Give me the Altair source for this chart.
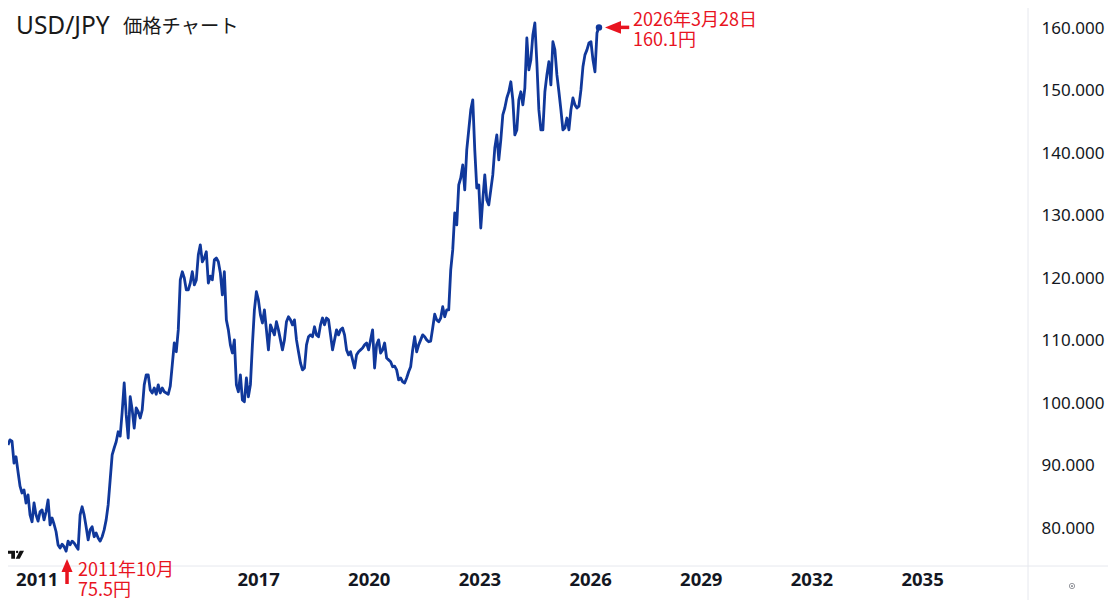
import altair as alt
import numpy as np
import pandas as pd

prices = [
93.3,94.1,93.9,90.4,91.4,89.0,86.7,85.6,86.1,84.0,85.3,82.1,81.0,84.0,82.1,81.1,82.6,82.9,81.3,82.6,
84.5,80.5,81.6,80.6,79.4,77.3,76.8,77.4,77.0,76.3,77.9,77.3,77.9,77.6,77.1,76.6,82.1,83.4,82.1,80.2,
78.1,79.7,80.2,78.6,79.2,78.4,77.9,78.6,79.7,81.3,83.7,87.7,91.7,92.8,93.8,95.4,94.7,98.6,103.2,98.1,
94.4,101.0,98.9,96.0,99.2,98.6,97.6,98.9,102.9,104.5,104.5,102.1,101.6,102.4,101.4,102.9,101.6,102.4,101.8,101.6,
101.4,102.7,106.1,109.6,108.2,111.7,119.7,121.0,120.0,118.1,118.1,119.2,121.0,118.9,119.7,123.7,125.3,122.6,123.2,124.2,
119.2,120.3,119.7,122.9,123.2,122.6,120.8,117.3,121.0,113.3,111.7,109.3,108.0,110.1,102.9,101.8,104.5,100.5,100.2,104.0,
101.0,102.9,109.3,114.9,117.8,116.5,114.1,112.8,114.9,111.7,108.5,112.5,111.7,110.9,113.0,111.7,110.1,108.5,110.1,113.0,
113.8,113.3,112.5,113.3,110.1,108.2,106.4,105.3,105.6,109.3,110.6,110.9,110.6,112.2,110.9,110.6,112.5,113.6,112.5,113.6,
113.3,110.9,108.5,110.1,111.7,110.9,111.7,112.0,110.9,108.5,107.7,108.2,106.9,105.6,107.7,108.2,108.5,108.8,109.3,109.6,
108.5,110.1,111.7,105.6,109.3,110.1,108.0,108.5,109.6,107.2,106.9,106.6,105.8,105.9,105.3,103.7,104.0,103.4,103.2,104.0,
105.0,105.8,108.5,110.6,108.2,109.3,110.1,110.9,110.6,110.1,109.8,109.9,112.0,114.2,113.3,113.0,113.6,115.4,113.8,114.9,
114.9,121.3,124.5,130.4,128.5,134.9,136.0,138.1,134.1,140.5,143.7,146.9,148.5,140.5,134.4,134.9,128.0,132.5,136.5,132.5,
131.7,134.1,136.5,140.8,142.9,138.9,142.1,146.1,147.2,148.8,149.8,151.4,148.5,142.9,143.7,148.5,149.8,147.7,150.4,158.4,
153.3,154.9,158.9,160.8,154.4,146.9,143.7,143.7,149.8,152.5,154.6,150.9,157.8,156.5,152.5,149.8,146.9,143.7,144.0,145.6,
143.7,146.9,148.8,147.7,147.2,147.5,150.1,153.8,155.7,156.5,157.6,157.8,154.9,153.0,159.2,160.2,
]
year_start = 2010.22
year_end = 2026.24
low_year, low_price = 2011.82, 75.5
last_price = 160.1
arrow_from, arrow_to = 2026.68, 2027.06
x_ticks = [2011, 2017, 2020, 2023, 2026, 2029, 2032, 2035]
y_ticks = [80, 90, 100, 110, 120, 130, 140, 150, 160]
title_latin = "USD/JPY"
title_cjk = "価格チャート"
note_last = ["2026年3月28日", "160.1円"]
note_low = ["2011年10月", "75.5円"]

LINE = "#10389b"
RED = "#e8141f"
TEXT = "#131722"
BORDER = "#e6e8ee"
SANS = "Noto Sans"
CJK = "Noto Sans CJK JP"

W, H = 1020, 558
X_DOM = [2010.22, 2037.87]
Y_DOM = [73.92, 163.2]

df = pd.DataFrame({"year": np.linspace(year_start, year_end, len(prices)), "price": prices})
x_enc = alt.X("year:Q", scale=alt.Scale(domain=X_DOM, nice=False, zero=False),
              axis=alt.Axis(values=x_ticks, format="d", orient="bottom", title=None, grid=False,
                            domain=False, ticks=False, labelFontSize=18.5, labelFontWeight="bold",
                            labelFont=SANS, labelColor=TEXT, labelPadding=4, labelFlush=False))
y_enc = alt.Y("price:Q", scale=alt.Scale(domain=Y_DOM, nice=False, zero=False),
              axis=alt.Axis(values=y_ticks, format=".3f", orient="right", title=None, grid=False,
                            domain=False, ticks=False, labelFontSize=17, labelFont=SANS,
                            labelColor=TEXT, labelPadding=13))
x_plain = alt.X("year:Q")
y_plain = alt.Y("price:Q")

line = alt.Chart(df).mark_line(color=LINE, strokeWidth=2.8, clip=True, strokeJoin="round").encode(x=x_enc, y=y_enc)

last = pd.DataFrame({"year": [year_end], "price": [last_price], "a": [arrow_from], "b": [arrow_to]})
low = pd.DataFrame({"year": [low_year], "price": [low_price]})
dot = alt.Chart(last).mark_point(filled=True, opacity=1, size=42, color=LINE).encode(x=x_plain, y=y_plain)

# arrow pointing at the last price
arrow_r_shaft = alt.Chart(last).mark_rule(color=RED, strokeWidth=3.5).encode(x="a:Q", x2="b:Q", y=y_plain)
arrow_r_head = alt.Chart(last).mark_point(shape="M-1,0 L1,-0.8 L1,0.8 Z", filled=True, opacity=1, color=RED, size=256, xOffset=14).encode(x=x_plain, y=y_plain)

# arrow pointing up at the low, drawn in the axis band
arrow_u_shaft = alt.Chart(low).mark_rule(color=RED, strokeWidth=3.5).encode(x=x_plain, y=alt.value(560), y2=alt.value(576))
arrow_u_head = alt.Chart(low).mark_point(shape="M0,-1 L0.85,1 L-0.85,1 Z", filled=True, opacity=1, color=RED, size=169).encode(x=x_plain, y=alt.value(557.5))

src = pd.DataFrame({"a": [0]})


def label(text, x, y, size, color, font):
    return alt.Chart(src).mark_text(text=text, align="left", baseline="middle", fontSize=size, font=font, color=color).encode(
        x=alt.value(x), y=alt.value(y))


texts = [
    label(note_last[0], 625, 13, 18, RED, CJK),
    label(note_last[1], 625, 33, 18, RED, CJK),
    label(note_low[0], 70, 563, 18, RED, CJK),
    label(note_low[1], 70, 583, 18, RED, CJK),
    label(title_latin, 8, 19, 24.5, "#1a1a1a", SANS),
    label(title_cjk, 115, 19, 19.3, "#1a1a1a", CJK),
]

# frame lines of the price and time panes
v_border = alt.Chart(src).mark_rule(color=BORDER, strokeWidth=1).encode(x=alt.value(W), y=alt.value(-8), y2=alt.value(592))
h_border = alt.Chart(src).mark_rule(color=BORDER, strokeWidth=1).encode(x=alt.value(0), x2=alt.value(W + 80), y=alt.value(H))

# settings icon and watermark
gear = alt.Chart(src).mark_point(shape="circle", filled=False, color="#4a4e58", size=28, strokeWidth=0.8).encode(x=alt.value(1064), y=alt.value(578))
gear_dot = alt.Chart(src).mark_point(shape="circle", filled=True, opacity=1, color="#4a4e58", size=3).encode(x=alt.value(1064), y=alt.value(578))
logo_path = ("M-1,-0.45 H-0.06 V0.5 H-0.5 V-0.1 H-1 Z "
             "M0.05,-0.3 a0.14,0.14 0 1 1 0.28,0 a0.14,0.14 0 1 1 -0.28,0 Z "
             "M0.5,-0.45 H1 L0.5,0.5 H0.02 Z")
logo = alt.Chart(src).mark_point(shape=logo_path, filled=True, opacity=1, color="#111111", size=289).encode(x=alt.value(7.5), y=alt.value(546.5))

chart = alt.layer(
    h_border, v_border, line, dot, arrow_r_shaft, arrow_r_head,
    arrow_u_shaft, arrow_u_head, logo, gear, gear_dot, *texts,
).properties(
    width=W, height=H,
    padding={"left": 0, "top": 0, "right": 80, "bottom": 34},
    autosize=alt.AutoSizeParams(type="none"),
    background="white",
).configure_view(stroke=None)

chart.save("out.html", embed_options={"renderer": "svg", "actions": False})
